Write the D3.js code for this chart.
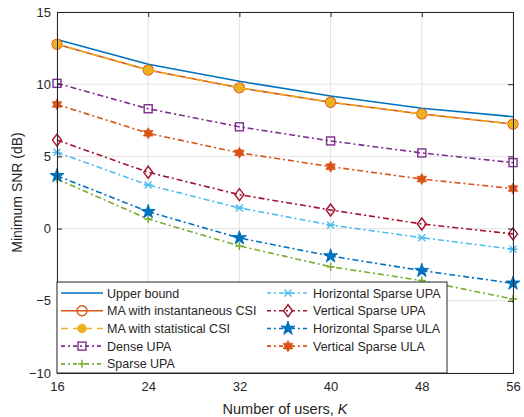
<!DOCTYPE html>
<html>
<head>
<meta charset="utf-8">
<script src="https://cdn.jsdelivr.net/npm/d3@7"></script>
<style>
  body { margin: 0; background: #fff; }
  svg { font-family: "Liberation Sans", Arial, sans-serif; }
</style>
</head>
<body>
<div id="chart"></div>
<script>
// ------------------------- data
var users = [16, 24, 32, 40, 48, 56];
var yTicks = [-10, -5, 0, 5, 10, 15];

var upperBound      = [13.1, 11.38, 10.2, 9.18, 8.33, 7.75];
var maInstantaneous = [12.76, 10.98, 9.75, 8.75, 7.94, 7.24];
var maStatistical   = [12.76, 10.98, 9.75, 8.75, 7.94, 7.24];
var denseUPA        = [10.06, 8.3, 7.05, 6.07, 5.24, 4.57];
var sparseUPA       = [3.43, 0.66, -1.2, -2.64, -3.6, -4.88];
var horSparseUPA    = [5.28, 3.02, 1.43, 0.25, -0.63, -1.43];
var verSparseUPA    = [6.13, 3.9, 2.35, 1.29, 0.32, -0.37];
var horSparseULA    = [3.66, 1.17, -0.65, -1.9, -2.91, -3.79];
var verSparseULA    = [8.6, 6.6, 5.25, 4.29, 3.43, 2.77];

var series = [
    { name: "Upper bound", values: upperBound, color: "#0072BD", dash: null, marker: null },
    { name: "MA with instantaneous CSI", values: maInstantaneous, color: "#D95319", dash: null, marker: "circleOpen" },
    { name: "MA with statistical CSI", values: maStatistical, color: "#EDB120", dash: "7,5", marker: "circleFill" },
    { name: "Dense UPA", values: denseUPA, color: "#7E2F8E", dash: "6,3,2,3", marker: "square" },
    { name: "Sparse UPA", values: sparseUPA, color: "#77AC30", dash: "6,3,2,3", marker: "plus" },
    { name: "Horizontal Sparse UPA", values: horSparseUPA, color: "#4DBEEE", dash: "6,3,2,3", marker: "asterisk" },
    { name: "Vertical Sparse UPA", values: verSparseUPA, color: "#A2142F", dash: "6,3,2,3", marker: "diamond" },
    { name: "Horizontal Sparse ULA", values: horSparseULA, color: "#0072BD", dash: "6,3,2,3", marker: "star" },
    { name: "Vertical Sparse ULA", values: verSparseULA, color: "#D95319", dash: "6,3,2,3", marker: "hexagram" }
];

// ------------------------- layout
var svgWidth = 524, svgHeight = 417;
var margin = { left: 57, top: 12, right: 11, bottom: 44 };
var plotW = svgWidth - margin.left - margin.right;
var plotH = svgHeight - margin.top - margin.bottom;

var svg = d3.select('#chart').append('svg')
    .attr('width', svgWidth)
    .attr('height', svgHeight);

var x = d3.scaleLinear().domain([16, 56]).range([0, plotW]);
var y = d3.scaleLinear().domain([-10, 15]).range([plotH, 0]);

var g = svg.append('g').attr('transform', 'translate(' + margin.left + ',' + margin.top + ')');

// grid
g.append('g').selectAll('line').data(users).enter().append('line')
    .attr('x1', d => x(d)).attr('x2', d => x(d))
    .attr('y1', 0).attr('y2', plotH)
    .attr('stroke', '#e3e3e3');
g.append('g').selectAll('line').data(yTicks).enter().append('line')
    .attr('y1', d => y(d)).attr('y2', d => y(d))
    .attr('x1', 0).attr('x2', plotW)
    .attr('stroke', '#e3e3e3');

// marker drawing
function hexagramPath(r) {
    var pts = [];
    for (var i = 0; i < 12; i++) {
        var a = Math.PI / 6 * i - Math.PI / 2;
        var rr = i % 2 === 0 ? r : r * 0.58;
        pts.push([rr * Math.cos(a), rr * Math.sin(a)]);
    }
    return 'M' + pts.join('L') + 'Z';
}

function drawMarker(sel, type, color) {
    if (type === "circleOpen") {
        sel.append('circle').attr('r', 5).attr('fill', 'none').attr('stroke', color).attr('stroke-width', 1.3);
    } else if (type === "circleFill") {
        sel.append('circle').attr('r', 4.3).attr('fill', color).attr('stroke', color);
    } else if (type === "square") {
        sel.append('rect').attr('x', -4).attr('y', -4).attr('width', 8).attr('height', 8)
            .attr('fill', 'none').attr('stroke', color).attr('stroke-width', 1.4);
    } else if (type === "plus") {
        sel.append('path').attr('d', 'M-4,0H4M0,-4V4')
            .attr('fill', 'none').attr('stroke', color).attr('stroke-width', 1.5);
    } else if (type === "asterisk") {
        sel.append('path').attr('d', 'M-3.5,-3.5L3.5,3.5M-3.5,3.5L3.5,-3.5M-4.5,0H4.5')
            .attr('fill', 'none').attr('stroke', color).attr('stroke-width', 1.4);
    } else if (type === "diamond") {
        sel.append('path').attr('d', 'M0,-6L4.5,0L0,6L-4.5,0Z')
            .attr('fill', 'none').attr('stroke', color).attr('stroke-width', 1.4);
    } else if (type === "star") {
        sel.append('path').attr('d', d3.symbol().type(d3.symbolStar).size(60)())
            .attr('fill', color).attr('stroke', color);
    } else if (type === "hexagram") {
        sel.append('path').attr('d', hexagramPath(5.5))
            .attr('fill', color).attr('stroke', color).attr('stroke-width', 0.8);
    }
}

var line = d3.line().x((d, i) => x(users[i])).y(d => y(d));

// lines & markers
series.forEach(function(s) {
    g.append('path')
        .datum(s.values)
        .attr('d', line)
        .attr('fill', 'none')
        .attr('stroke', s.color)
        .attr('stroke-width', 1.6)
        .attr('stroke-dasharray', s.dash);
    if (s.marker) {
        s.values.forEach(function(v, i) {
            var m = g.append('g').attr('transform', 'translate(' + x(users[i]) + ',' + y(v) + ')');
            drawMarker(m, s.marker, s.color);
        });
    }
});

// axes
var xAxis = g.append('g').attr('transform', 'translate(0,' + plotH + ')')
    .call(d3.axisBottom(x).tickValues(users).tickSize(-5).tickPadding(9));
var yAxis = g.append('g')
    .call(d3.axisLeft(y).tickValues(yTicks).tickSize(-5).tickPadding(6));
var xTop = g.append('g').call(d3.axisTop(x).tickValues(users).tickSize(-5).tickFormat(''));
var yRight = g.append('g').attr('transform', 'translate(' + plotW + ',0)')
    .call(d3.axisRight(y).tickValues(yTicks).tickSize(-5).tickFormat(''));

[xAxis, yAxis, xTop, yRight].forEach(function(a) {
    a.select('.domain').attr('stroke', '#262626');
    a.selectAll('.tick line').attr('stroke', '#262626');
    a.selectAll('text').attr('fill', '#262626').style('font-size', '13px');
});

// legend
var legX = 0, legY = y(-3.7);
var legW = 390, legH = plotH - legY;
var leg = g.append('g');
leg.append('rect')
    .attr('x', legX).attr('y', legY)
    .attr('width', legW).attr('height', legH)
    .attr('fill', '#fff').attr('stroke', '#262626').attr('stroke-width', 1);

var rowH = 17.7;
series.forEach(function(s, i) {
    var col = i < 5 ? 0 : 1;
    var row = i < 5 ? i : i - 5;
    var lx = col === 0 ? 4 : 210;
    var ly = legY + 11 + row * rowH;
    var item = leg.append('g');
    item.append('line')
        .attr('x1', lx).attr('x2', lx + 42)
        .attr('y1', ly).attr('y2', ly)
        .attr('stroke', s.color).attr('stroke-width', 1.6)
        .attr('stroke-dasharray', s.dash ? (s.dash === "7,5" ? "7,5" : "4,3,2,3") : null);
    if (s.marker) {
        var m = item.append('g').attr('transform', 'translate(' + (lx + 21) + ',' + ly + ')');
        drawMarker(m, s.marker, s.color);
    }
    item.append('text')
        .attr('x', lx + 46).attr('y', ly + 4.5)
        .attr('fill', '#262626')
        .style('font-size', '12.5px')
        .text(s.name);
});

// axis labels
svg.append('text')
    .attr('x', margin.left + plotW / 2).attr('y', 414)
    .attr('text-anchor', 'middle')
    .attr('fill', '#262626')
    .style('font-size', '14.5px')
    .html('Number of users, <tspan font-style="italic">K</tspan>');

svg.append('text')
    .attr('transform', 'translate(22,' + (margin.top + plotH / 2) + ') rotate(-90)')
    .attr('text-anchor', 'middle')
    .attr('fill', '#262626')
    .style('font-size', '14px')
    .text('Minimum SNR (dB)');
</script>
</body>
</html>
